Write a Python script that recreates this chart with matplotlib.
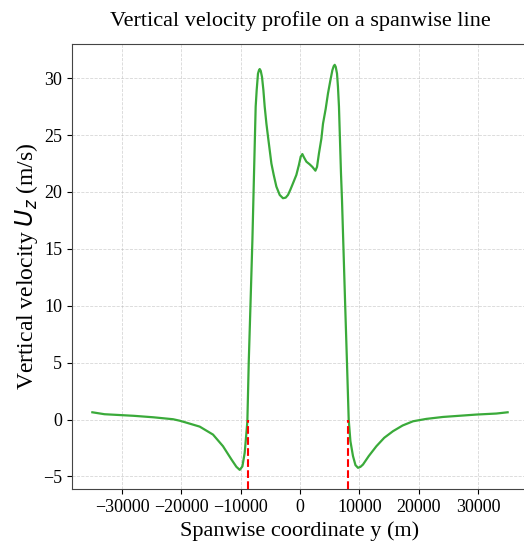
import matplotlib
matplotlib.use("Agg")
import matplotlib.pyplot as plt

plt.rcParams['font.family'] = ['Liberation Serif', 'DejaVu Serif']

# Spanwise coordinate (m) and vertical velocity (m/s) along the line
y_coord = [-35000, -32950, -28000, -24700, -21400, -20270, -19150, -16900, -14660,
           -12980, -11560, -10720, -10160, -9710, -9320, -9030, -8870,
           -8640, -8350, -8020, -7750, -7470, -7300, -7080, -6910, -6790, -6620,
           -6400, -6170, -5950, -5660, -5390, -5110, -4820, -4430, -3980, -3420,
           -2870, -2410, -2020, -1620, -1180, -610, -170, 120, 400, 670, 1080,
           1630, 2090, 2600, 2870, 3200, 3610, 3880, 4330, 4720, 5120, 5460,
           5680, 5850, 6020, 6240, 6400, 6570, 6740, 6910, 7080, 7330, 7620,
           7920, 8210, 8500, 8930, 9350, 9780, 10200, 10620, 11600, 12880,
           14200, 15680, 17300, 19050, 21300, 24100, 29730, 33100, 35000]
u_z = [0.64, 0.47, 0.33, 0.20, 0.03, -0.10, -0.27, -0.62, -1.32,
       -2.34, -3.50, -4.15, -4.42, -4.12, -2.92, -1.17, -0.15,
       5.0, 10.0, 15.8, 21.6, 27.5, 28.95, 30.4, 30.7, 30.8, 30.65,
       30.1, 28.95, 27.5, 26.0, 24.85, 23.7, 22.5, 21.5, 20.47, 19.74,
       19.45, 19.5, 19.74, 20.2, 20.76, 21.5, 22.4, 23.1, 23.33, 23.04, 22.66,
       22.43, 22.2, 21.87, 22.2, 23.4, 24.7, 26.0, 27.3, 28.66, 29.8, 30.7,
       31.05, 31.17, 31.0, 30.4, 29.24, 27.5, 24.56, 21.64, 19.3, 15.0, 10.0,
       5.0, 0.0, -1.9, -3.2, -4.0, -4.24, -4.15, -3.95, -3.2, -2.34,
       -1.6, -1.02, -0.52, -0.15, 0.06, 0.23, 0.44, 0.53, 0.64]

# Zero crossings at the edges of the updraft
zero_cross = [-8760, 8160]

fig = plt.figure(figsize=(5.24, 5.42), dpi=100)
ax = fig.add_axes([0.1374, 0.0978, 1.0076 - 0.1374, 0.9188 - 0.0978])
ax.plot(y_coord, u_z, color='#3aaa3a', linewidth=1.6)
ax.set_xlim(-38430, 38430)
ax.set_ylim(-6.1, 33.0)
ax.vlines(zero_cross, -6.1, 0, colors='red', linestyles='--', linewidth=1.5)

ax.grid(True, linestyle='--', linewidth=0.6, alpha=0.5)
ax.set_title('Vertical velocity profile on a spanwise line', fontsize=16, pad=13)
ax.set_xlabel('Spanwise coordinate y (m)', fontsize=16)
ax.set_ylabel(r'Vertical velocity $U_z$ (m/s)', fontsize=17, labelpad=2)
ax.tick_params(labelsize=13)
for s in ax.spines.values():
    s.set_color('#444444')

fig.savefig('out.png', dpi=100)
